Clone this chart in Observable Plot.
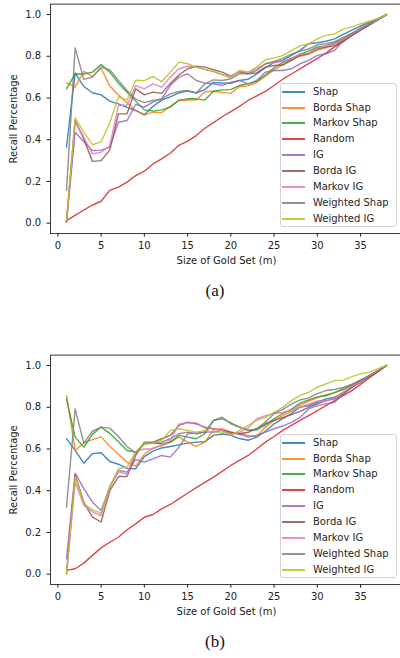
<!DOCTYPE html>
<html><head><meta charset="utf-8">
<script src="https://cdn.jsdelivr.net/npm/d3@7"></script>
<script src="https://cdn.jsdelivr.net/npm/@observablehq/plot@0.6"></script>
<style>
body{margin:0;background:#fff;width:400px;height:658px;overflow:hidden;position:relative;font-family:"DejaVu Sans",sans-serif;}
.panel{position:absolute;left:0;width:400px;height:270px;}
.legend{position:absolute;left:280px;width:117px;border:1px solid #d4d4d4;border-radius:3px;background:rgba(255,255,255,0.85);box-sizing:border-box;}
.item{position:absolute;left:0;width:115px;height:14px;line-height:14px;font-size:10px;color:#262626;white-space:nowrap;}
.swatch{position:absolute;left:1px;width:23px;height:2px;top:6px;}
.label{position:absolute;left:32px;top:0;}
.caption{position:absolute;left:185px;width:60px;text-align:center;font-family:"Liberation Serif","DejaVu Serif",serif;font-size:17px;color:#111;}
</style></head>
<body>
<script>
const sizes = [1,2,3,4,5,6,7,8,9,10,11,12,13,14,15,16,17,18,19,20,21,22,23,24,25,26,27,28,29,30,31,32,33,34,35,36,37,38];
const seriesNames = ["Shap","Borda Shap","Markov Shap","Random","IG","Borda IG","Markov IG","Weighted Shap","Weighted IG"];
const seriesColors = ["#1f77b4","#ff7f0e","#2ca02c","#d62728","#9467bd","#8c564b","#e377c2","#7f7f7f","#bcbd22"];
const xTicks = [0,5,10,15,20,25,30,35];
const yTicks = [0,0.2,0.4,0.6,0.8,1.0];
const captions = ["(a)","(b)"];

// Panel (a)
const a_shap = [0.364,0.72,0.655,0.625,0.615,0.585,0.572,0.555,0.54,0.52,0.56,0.59,0.605,0.625,0.633,0.625,0.64,0.675,0.672,0.67,0.684,0.69,0.715,0.745,0.77,0.78,0.804,0.828,0.86,0.865,0.872,0.883,0.905,0.925,0.945,0.962,0.98,1.0];
const a_bordaShap = [0.673,0.652,0.728,0.702,0.744,0.657,0.614,0.577,0.54,0.518,0.532,0.53,0.56,0.588,0.59,0.59,0.63,0.632,0.627,0.622,0.655,0.658,0.675,0.705,0.735,0.76,0.785,0.8,0.81,0.83,0.84,0.86,0.88,0.905,0.93,0.95,0.975,1.0];
const a_markovShap = [0.644,0.716,0.715,0.724,0.76,0.724,0.671,0.628,0.585,0.543,0.537,0.543,0.556,0.59,0.596,0.596,0.59,0.632,0.639,0.64,0.66,0.668,0.68,0.71,0.745,0.77,0.79,0.81,0.825,0.845,0.85,0.865,0.885,0.91,0.93,0.955,0.975,1.0];
const a_random = [0.012,0.037,0.063,0.087,0.105,0.157,0.173,0.197,0.228,0.249,0.284,0.308,0.335,0.373,0.393,0.42,0.455,0.482,0.51,0.535,0.56,0.588,0.61,0.632,0.66,0.69,0.715,0.74,0.765,0.79,0.815,0.845,0.87,0.9,0.925,0.95,0.975,1.0];
const a_ig = [0.005,0.436,0.39,0.348,0.35,0.364,0.484,0.492,0.57,0.556,0.58,0.596,0.66,0.7,0.716,0.684,0.671,0.668,0.66,0.676,0.684,0.668,0.684,0.724,0.732,0.732,0.74,0.764,0.78,0.804,0.812,0.828,0.875,0.9,0.925,0.95,0.975,1.0];
const a_bordaIg = [0.005,0.492,0.404,0.296,0.3,0.35,0.524,0.524,0.644,0.615,0.628,0.622,0.67,0.71,0.74,0.752,0.748,0.736,0.724,0.705,0.725,0.716,0.72,0.748,0.756,0.758,0.78,0.804,0.812,0.836,0.844,0.851,0.875,0.9,0.925,0.95,0.975,1.0];
const a_markovIg = [0.005,0.484,0.412,0.332,0.34,0.37,0.565,0.565,0.66,0.644,0.668,0.652,0.7,0.74,0.752,0.748,0.737,0.728,0.713,0.702,0.73,0.722,0.74,0.764,0.77,0.775,0.79,0.81,0.815,0.84,0.85,0.86,0.88,0.905,0.93,0.955,0.975,1.0];
const a_weightedShap = [0.157,0.84,0.689,0.7,0.748,0.736,0.684,0.636,0.595,0.578,0.588,0.596,0.62,0.631,0.636,0.623,0.668,0.687,0.684,0.692,0.716,0.716,0.732,0.764,0.775,0.79,0.81,0.825,0.835,0.855,0.86,0.87,0.89,0.91,0.935,0.955,0.975,1.0];
const a_weightedIg = [0.01,0.505,0.435,0.376,0.39,0.48,0.605,0.59,0.685,0.683,0.703,0.678,0.724,0.772,0.764,0.748,0.736,0.727,0.711,0.695,0.732,0.724,0.748,0.783,0.792,0.803,0.827,0.85,0.86,0.883,0.9,0.907,0.93,0.942,0.955,0.968,0.98,1.0];

// Panel (b)
const b_shap = [0.65,0.593,0.532,0.578,0.582,0.54,0.527,0.507,0.505,0.563,0.59,0.605,0.612,0.62,0.628,0.633,0.635,0.665,0.672,0.665,0.65,0.642,0.657,0.685,0.72,0.745,0.77,0.8,0.808,0.824,0.84,0.848,0.872,0.896,0.92,0.945,0.97,1.0];
const b_bordaShap = [0.856,0.593,0.63,0.645,0.658,0.613,0.575,0.537,0.518,0.575,0.605,0.615,0.633,0.657,0.633,0.612,0.633,0.692,0.697,0.681,0.673,0.665,0.66,0.705,0.737,0.76,0.78,0.81,0.83,0.845,0.86,0.87,0.89,0.91,0.93,0.95,0.975,1.0];
const b_markovShap = [0.84,0.657,0.609,0.67,0.705,0.675,0.635,0.593,0.585,0.625,0.628,0.625,0.633,0.665,0.657,0.649,0.673,0.737,0.745,0.725,0.705,0.69,0.692,0.715,0.745,0.77,0.79,0.82,0.835,0.85,0.855,0.87,0.885,0.905,0.93,0.95,0.975,1.0];
const b_random = [0.018,0.026,0.053,0.09,0.126,0.153,0.177,0.213,0.241,0.273,0.286,0.313,0.334,0.361,0.388,0.415,0.44,0.465,0.493,0.521,0.545,0.569,0.6,0.633,0.66,0.689,0.713,0.737,0.76,0.784,0.808,0.832,0.856,0.88,0.91,0.94,0.97,1.0];
const b_ig = [0.074,0.484,0.41,0.345,0.305,0.417,0.497,0.489,0.55,0.537,0.553,0.569,0.561,0.609,0.673,0.676,0.681,0.681,0.689,0.673,0.673,0.657,0.665,0.681,0.697,0.71,0.728,0.752,0.792,0.808,0.816,0.824,0.864,0.895,0.925,0.95,0.975,1.0];
const b_bordaIg = [0.005,0.475,0.345,0.273,0.25,0.4,0.468,0.468,0.57,0.633,0.633,0.649,0.665,0.713,0.728,0.721,0.705,0.697,0.689,0.681,0.673,0.68,0.697,0.721,0.737,0.75,0.765,0.78,0.8,0.816,0.832,0.84,0.864,0.895,0.925,0.95,0.975,1.0];
const b_markovIg = [0.0,0.44,0.33,0.3,0.28,0.42,0.49,0.48,0.59,0.6,0.6,0.62,0.64,0.72,0.725,0.725,0.7,0.695,0.69,0.67,0.68,0.7,0.745,0.76,0.77,0.775,0.785,0.8,0.815,0.83,0.83,0.845,0.87,0.9,0.925,0.95,0.975,1.0];
const b_weightedShap = [0.321,0.792,0.628,0.685,0.705,0.7,0.66,0.612,0.58,0.625,0.628,0.633,0.649,0.673,0.681,0.673,0.681,0.737,0.752,0.721,0.705,0.689,0.697,0.729,0.769,0.79,0.815,0.835,0.845,0.865,0.88,0.885,0.895,0.91,0.93,0.95,0.975,1.0];
const b_weightedIg = [0.0,0.47,0.337,0.309,0.292,0.42,0.505,0.513,0.585,0.625,0.628,0.641,0.689,0.697,0.689,0.681,0.689,0.681,0.681,0.665,0.689,0.713,0.737,0.752,0.776,0.8,0.832,0.856,0.872,0.896,0.912,0.928,0.93,0.947,0.96,0.968,0.985,1.0];

const panels = [
  {top: 0, values: [a_shap,a_bordaShap,a_markovShap,a_random,a_ig,a_bordaIg,a_markovIg,a_weightedShap,a_weightedIg]},
  {top: 351, values: [b_shap,b_bordaShap,b_markovShap,b_random,b_ig,b_bordaIg,b_markovIg,b_weightedShap,b_weightedIg]}
];

panels.forEach((p, pi) => {
  const data = seriesNames.flatMap((s, k) => sizes.map((m, i) => ({m, v: p.values[k][i], s})));
  const chart = Plot.plot({
    width: 400, height: 270,
    marginLeft: 50, marginRight: -2, marginTop: 3.6, marginBottom: 36.9,
    style: {fontFamily: "DejaVu Sans", fontSize: "10px", color: "#222", background: "transparent"},
    x: {domain: [-0.85, 39.85]},
    y: {domain: [-0.05, 1.05]},
    color: {domain: seriesNames, range: seriesColors},
    marks: [
      Plot.line(data, {x: "m", y: "v", z: "s", stroke: "s", strokeWidth: 1.4, strokeOpacity: 0.85}),
      Plot.frame({stroke: "#222", strokeWidth: 0.9}),
      Plot.axisX({ticks: xTicks, tickSize: 3.5, tickPadding: 4.4, tickFormat: d => String(d), label: "Size of Gold Set (m)", labelAnchor: "center", labelArrow: "none", labelOffset: 30}),
      Plot.axisY({ticks: yTicks, tickSize: 3.5, tickPadding: 5.8, tickFormat: d3.format(".1f"), label: "Recall Percentage", labelAnchor: "center", labelArrow: "none", labelOffset: 41})
    ]
  });
  const wrap = document.createElement("div");
  wrap.className = "panel";
  wrap.style.top = p.top + "px";
  wrap.appendChild(chart);
  document.body.appendChild(wrap);

  const leg = document.createElement("div");
  leg.className = "legend";
  leg.style.top = (p.top + 82.7) + "px";
  leg.style.height = "144.6px";
  seriesNames.forEach((s, k) => {
    const it = document.createElement("div");
    it.className = "item";
    it.style.top = (1 + k * 15.9) + "px";
    const sw = document.createElement("div");
    sw.className = "swatch";
    sw.style.backgroundColor = seriesColors[k];
    sw.style.opacity = "0.85";
    const tx = document.createElement("span");
    tx.className = "label";
    tx.textContent = s;
    it.appendChild(sw); it.appendChild(tx);
    leg.appendChild(it);
  });
  document.body.appendChild(leg);

  const cap = document.createElement("div");
  cap.className = "caption";
  cap.style.top = (p.top + 281) + "px";
  cap.textContent = captions[pi];
  document.body.appendChild(cap);
});
</script>
</body></html>
